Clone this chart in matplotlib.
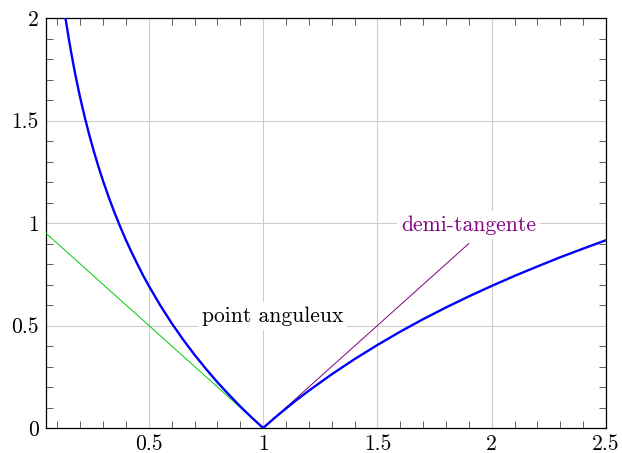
import matplotlib
matplotlib.use("Agg")
import matplotlib.pyplot as plt
from matplotlib.ticker import MultipleLocator

plt.rcParams['font.family'] = ['cmr10', 'DejaVu Serif']
plt.rcParams['mathtext.fontset'] = 'cm'
plt.rcParams['axes.formatter.use_mathtext'] = True

# curve
curve_x = [0.135, 0.14, 0.15, 0.16, 0.17, 0.18, 0.19, 0.2, 0.22, 0.24, 0.26, 0.28, 0.3,
           0.325, 0.35, 0.375, 0.4, 0.425, 0.45, 0.475, 0.5, 0.55, 0.6, 0.65, 0.7, 0.75,
           0.8, 0.85, 0.9, 0.95, 1.0, 1.05, 1.1, 1.15, 1.2, 1.3, 1.4, 1.5, 1.6, 1.7,
           1.8, 1.9, 2.0, 2.1, 2.2, 2.3, 2.4, 2.5]
curve_y = [2.0, 1.966, 1.897, 1.833, 1.772, 1.715, 1.661, 1.609, 1.514, 1.427, 1.347,
           1.273, 1.204, 1.124, 1.050, 0.981, 0.916, 0.856, 0.799, 0.744, 0.693, 0.598,
           0.511, 0.431, 0.357, 0.288, 0.223, 0.163, 0.105, 0.051, 0.0, 0.049, 0.095,
           0.140, 0.182, 0.262, 0.336, 0.405, 0.470, 0.531, 0.588, 0.642, 0.693, 0.742,
           0.788, 0.833, 0.875, 0.916]

# left half-tangent
left_x = [0.05, 1.0]
left_y = [0.95, 0.0]
# right half-tangent
right_x = [1.0, 1.9]
right_y = [0.0, 0.9]

fig = plt.figure(figsize=(6.22, 4.53), dpi=100)
ax = fig.add_axes([46/622, 25/453, 560/622, 410/453])

ax.plot(left_x, left_y, color='#00cc00', lw=0.7, zorder=3)
ax.plot(right_x, right_y, color='#800080', lw=0.7, zorder=3)
ax.plot(curve_x, curve_y, color='blue', lw=1.7, zorder=4, solid_joinstyle='round')

ax.text(1.04, 0.546, 'point anguleux', ha='center', va='center', fontsize=15.5,
        bbox=dict(facecolor='white', edgecolor='none', pad=3), zorder=5)
ax.text(1.90, 0.99, 'demi-tangente', ha='center', va='center', fontsize=15.5,
        color='#800080', bbox=dict(facecolor='white', edgecolor='none', pad=3), zorder=5)

ax.set_xlim(0.05, 2.5)
ax.set_ylim(0, 2)
ax.xaxis.set_minor_locator(MultipleLocator(0.1))
ax.yaxis.set_minor_locator(MultipleLocator(0.1))
ax.set_xticks([0.5, 1, 1.5, 2, 2.5])
ax.set_xticklabels(['0.5', '1', '1.5', '2', '2.5'])
ax.set_yticks([0, 0.5, 1, 1.5, 2])
ax.set_yticklabels(['0', '0.5', '1', '1.5', '2'])
ax.tick_params(which='both', direction='in', top=True, right=True, labelsize=15.5,
               color='#444444')
ax.tick_params(which='major', length=0, pad=5)
ax.tick_params(which='minor', length=5, width=0.6)
ax.grid(True, which='major', color='#cccccc', lw=0.8, zorder=0)
for s in ax.spines.values():
    s.set_linewidth(0.9)

fig.savefig('out.png', dpi=100)
